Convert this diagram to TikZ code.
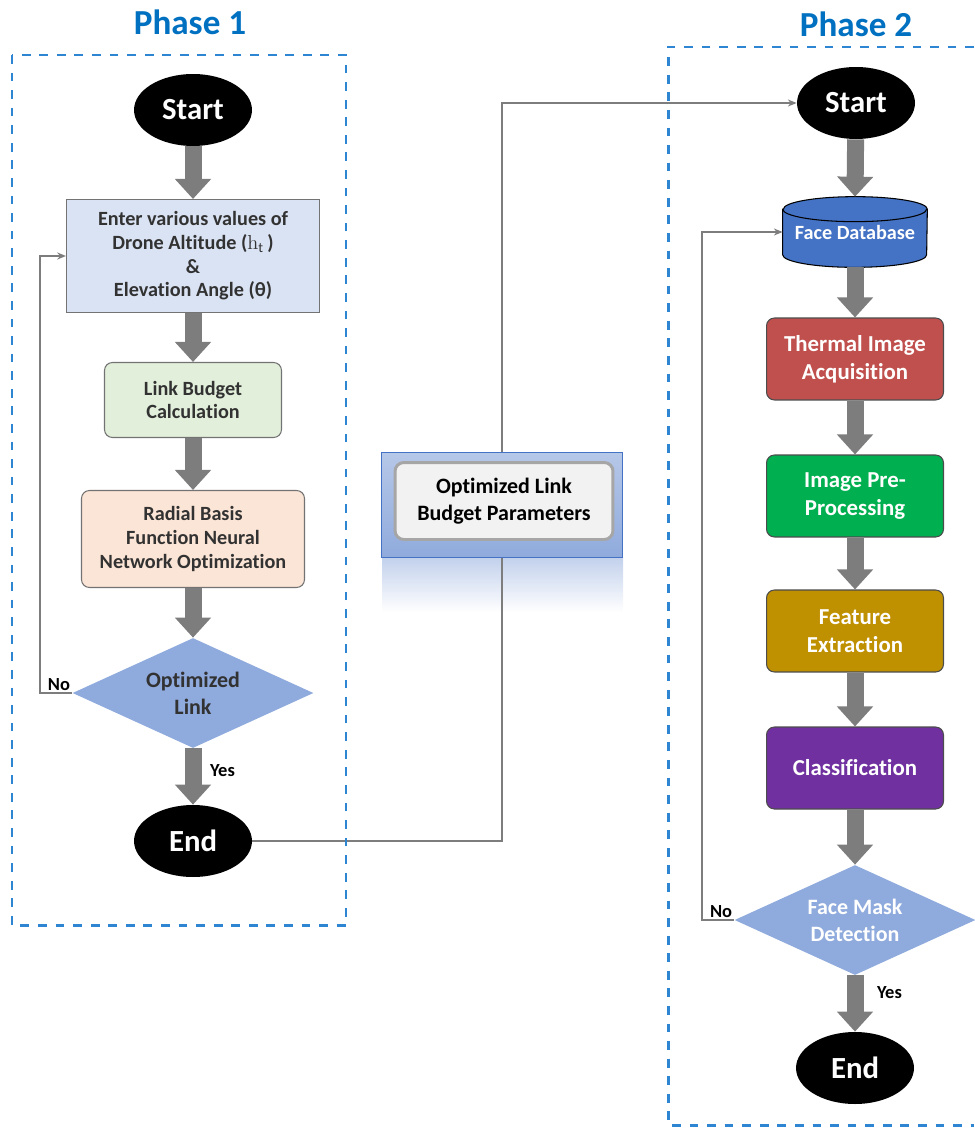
\documentclass[tikz,border=0pt]{standalone}
\usepackage{fontspec}
\setmainfont{Carlito}[Ligatures=NoCommon]
\newfontfamily\mathlike{Latin Modern Roman}
\usetikzlibrary{shapes.geometric,arrows.meta,backgrounds}
\definecolor{phaseblue}{RGB}{0,112,192}
\definecolor{dashblue}{RGB}{46,134,210}
\definecolor{entercol}{RGB}{218,227,243}
\definecolor{linkcol}{RGB}{226,239,218}
\definecolor{rbfcol}{RGB}{251,229,214}
\definecolor{deccol}{RGB}{143,170,220}
\definecolor{dbcol}{RGB}{68,114,196}
\definecolor{thermcol}{RGB}{192,80,77}
\definecolor{precol}{RGB}{0,176,80}
\definecolor{featcol}{RGB}{191,144,0}
\definecolor{clscol}{RGB}{112,48,160}
\definecolor{txtgray}{RGB}{50,50,50}
\definecolor{arrgray}{RGB}{125,125,125}
\definecolor{optfill}{RGB}{242,242,242}
\definecolor{optedge}{RGB}{166,166,166}

\begin{document}
\begin{tikzpicture}[x=0.02cm,y=-0.02cm,
  phase/.style={font=\fontsize{20}{24}\selectfont\bfseries, text=phaseblue},
  phasebox/.style={draw=dashblue, line width=1.7pt, dash pattern=on 5pt off 5pt},
  terminal/.style={ellipse, fill=black, text=white, minimum width=2.36cm, minimum height=1.44cm, inner sep=0pt, font=\fontsize{17.5}{20}\selectfont\bfseries},
  process/.style={draw=black!55, line width=0.6pt, align=center, inner sep=0pt, text=txtgray, font=\fontsize{11.5}{13.5}\selectfont\bfseries},
  stage/.style={draw=black!70, line width=0.6pt, rounded corners=4.5pt, align=center, minimum width=3.54cm, minimum height=1.64cm, inner sep=0pt, text=white, font=\fontsize{13}{16}\selectfont\bfseries},
  decision/.style={diamond, fill=deccol, aspect=2.2, minimum width=4.82cm, minimum height=2.2cm, inner sep=0pt, align=center, font=\fontsize{12.5}{15.5}\selectfont\bfseries},
  blockarrow/.style={draw=arrgray, line width=0.34cm, -{Triangle[width=0.7cm,length=0.4cm]}},
  link/.style={draw=arrgray, line width=0.8pt, -{Stealth[length=5pt,width=4pt]}},
  lbl/.style={font=\fontsize{10.5}{12}\selectfont\bfseries, inner sep=1pt}]
\useasboundingbox (0,0) rectangle (974,1128);

\node[phase] (ph1) at (190,22) {Phase 1};
\node[phase] (ph2) at (856,24) {Phase 2};
\draw[phasebox] (12,55) rectangle (346,925);
\draw[phasebox] (974,47) -- (668,47) -- (668,1125) -- (974,1125);

\node[terminal] (start1) at (193,110) {Start};
\node[process, fill=entercol, minimum width=5.06cm, minimum height=2.26cm] (enter) at (193,256) {Enter various values of\\Drone Altitude ({\mathlike\mdseries h}$_{\mathrm{t}}$\,)\\\&\\Elevation Angle (θ)};
\node[process, fill=linkcol, rounded corners=4.5pt, minimum width=3.54cm, minimum height=1.5cm] (budget) at (193,400) {Link Budget\\Calculation};
\node[process, fill=rbfcol, rounded corners=4.5pt, minimum width=4.46cm, minimum height=1.94cm] (rbf) at (193,539) {Radial Basis\\Function Neural\\Network Optimization};
\node[decision, text=txtgray] (optlink) at (193,693) {Optimized\\Link};
\node[terminal] (end1) at (193,841) {End};
\node[lbl, anchor=south east] (no1) at (optlink.west) {No};
\node[lbl, anchor=west] (yes1) at (208,771) {Yes};

\node[draw=dbcol, line width=0.6pt, top color=deccol!65!white, bottom color=deccol, minimum width=4.82cm, minimum height=2.1cm] (paramsbg) at (502,505) {};
\node[fill=optfill, draw=optedge, line width=1.7pt, rounded corners=5pt, minimum width=4.36cm, minimum height=1.54cm, align=center, inner sep=0pt, font=\fontsize{12.5}{15}\selectfont\bfseries] (params) at (504,501) {Optimized Link\\Budget Parameters};
\coordinate (turn) at (paramsbg |- end1);

\node[terminal] (start2) at (856,103) {Start};
\node[minimum width=2.88cm, minimum height=0.9cm, inner sep=0pt, text=white, font=\fontsize{11.5}{13}\selectfont\bfseries] (facedb) at (855,232) {Face Database};
\node[stage, fill=thermcol] (thermal) at (855,359) {Thermal Image\\Acquisition};
\node[stage, fill=precol] (preproc) at (855,496) {Image Pre-\\Processing};
\node[stage, fill=featcol] (feature) at (855,631) {Feature\\Extraction};
\node[stage, fill=clscol] (classify) at (855,768) {Classification};
\node[decision, text=white] (maskdet) at (855,920) {Face Mask\\Detection};
\node[terminal] (end2) at (855,1068) {End};
\node[lbl, anchor=south east] (no2) at (maskdet.west) {No};
\node[lbl, anchor=west] (yes2) at (875,993) {Yes};

\begin{scope}[on background layer]
\shade[top color=deccol!55!white, bottom color=white] (382,557) rectangle (623,612);
\draw[link] (end1) -- (turn) |- (start2);
\filldraw[fill=dbcol, draw=black, line width=0.6pt] (facedb.north west) -- (facedb.south west) arc[start angle=180, end angle=360, x radius=1.44cm, y radius=0.25cm] -- (facedb.north east) arc[start angle=0, end angle=180, x radius=1.44cm, y radius=0.25cm] -- cycle;
\draw[line width=0.6pt] (facedb.north west) arc[start angle=180, end angle=360, x radius=1.44cm, y radius=0.25cm];
\end{scope}

\draw[blockarrow] (start1) -- (enter);
\draw[blockarrow] (enter) -- (budget);
\draw[blockarrow] (budget) -- (rbf);
\draw[blockarrow] (rbf) -- (optlink);
\draw[blockarrow] (optlink) -- (end1);
\draw[link] (optlink.west) -- ++(-32,0) |- (enter.west);

\draw[blockarrow] (start2) -- ([yshift=0.25cm]facedb.north);
\draw[blockarrow] ([yshift=-0.25cm]facedb.south) -- (thermal);
\draw[blockarrow] (thermal) -- (preproc);
\draw[blockarrow] (preproc) -- (feature);
\draw[blockarrow] (feature) -- (classify);
\draw[blockarrow] (classify) -- (maskdet);
\draw[blockarrow] (maskdet) -- (end2);
\draw[link] (maskdet.west) -- ++(-32,0) |- (facedb.west);
\end{tikzpicture}
\end{document}
